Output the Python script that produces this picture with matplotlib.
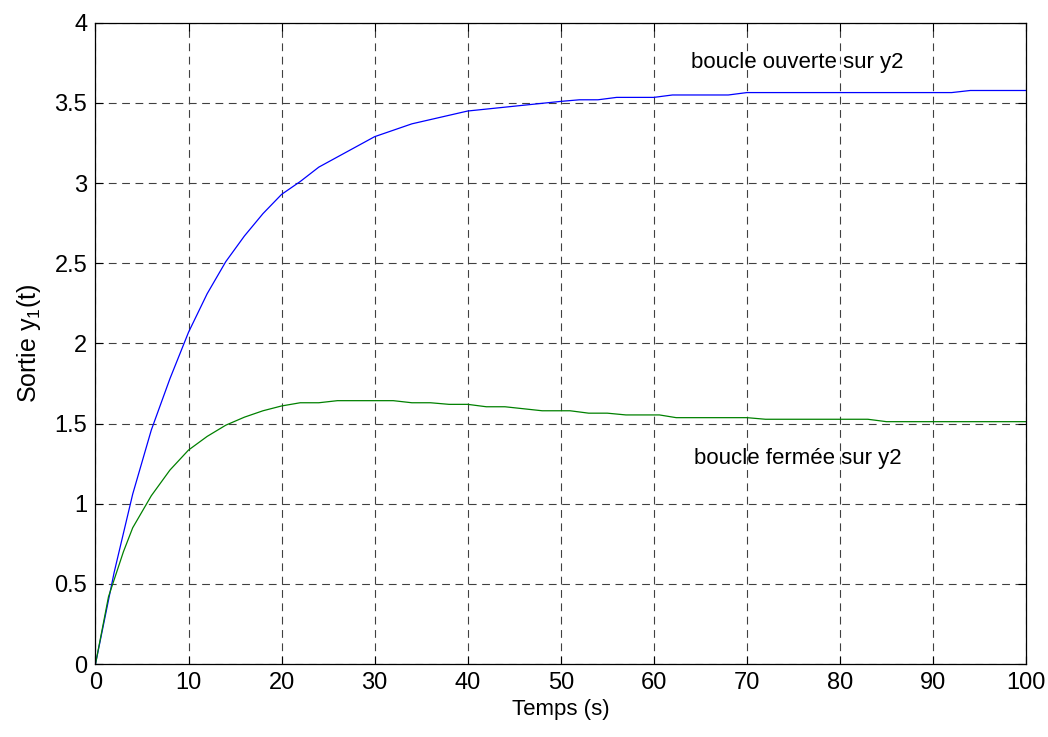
import matplotlib
matplotlib.use("Agg")
import matplotlib.pyplot as plt
from matplotlib.ticker import FuncFormatter

plt.rcParams['font.family'] = ['Liberation Sans', 'DejaVu Sans']
plt.rcParams['mathtext.fontset'] = 'custom'
plt.rcParams['mathtext.rm'] = 'Liberation Sans'

# boucle ouverte sur y2 (blue)
t_open = [0, 2, 4, 6, 8, 10, 12, 14, 16, 18, 20, 22, 24, 30, 34, 40, 50, 52, 54,
          56, 60, 62, 68, 70, 92, 94, 100]
y_open = [0, 0.57, 1.06, 1.46, 1.78, 2.07, 2.31, 2.51, 2.67, 2.81, 2.93, 3.01, 3.10,
          3.29, 3.37, 3.45, 3.51, 3.52, 3.52, 3.535, 3.535, 3.55, 3.55, 3.565, 3.565,
          3.578, 3.578]

# boucle fermee sur y2 (green)
t_closed = [0, 1.4, 3, 4, 6, 8, 10, 12, 14, 16, 18, 20, 22, 24, 26, 32, 34, 36, 38,
            40, 42, 44, 48, 51, 53, 55, 57, 60.6, 62.4, 70, 72, 83, 85, 100]
y_closed = [0, 0.42, 0.70, 0.85, 1.05, 1.21, 1.335, 1.42, 1.49, 1.54, 1.58, 1.61,
            1.63, 1.63, 1.643, 1.643, 1.63, 1.63, 1.62, 1.62, 1.605, 1.605, 1.58,
            1.58, 1.565, 1.565, 1.554, 1.554, 1.537, 1.537, 1.527, 1.527, 1.512, 1.512]

x_ticks = list(range(0, 101, 10))
y_ticks = [0, 0.5, 1, 1.5, 2, 2.5, 3, 3.5, 4]

fig = plt.figure(figsize=(10.48, 7.37), dpi=100)
ax = fig.add_axes([0.0911, 0.099, 0.888, 0.870])

ax.plot(t_open, y_open, color=(0, 0, 1), linewidth=0.9)
ax.plot(t_closed, y_closed, color=(0, 0.5, 0), linewidth=0.9)

ax.set_xlim(0, 100)
ax.set_ylim(0, 4)
ax.set_xticks(x_ticks)
ax.set_yticks(y_ticks)
ax.yaxis.set_major_formatter(FuncFormatter(lambda v, p: f"{v:g}"))
ax.tick_params(direction='in', length=6, width=0.8, top=True, right=True,
               labelsize=17, pad=6, colors='black')
ax.grid(True, color='0.25', linestyle=(0, (7, 5)), linewidth=0.8)
for s in ax.spines.values():
    s.set_linewidth(0.9)

ax.text(64, 3.75, "boucle ouverte sur y2", fontsize=16, va='center', ha='left')
ax.text(64.3, 1.28, "boucle fermée sur y2", fontsize=16, va='center', ha='left')

ax.set_xlabel("Temps (s)", fontsize=16, labelpad=3)
ax.set_ylabel(r"Sortie y$_\mathregular{1}$(t)", fontsize=18, labelpad=8)

fig.savefig("out.png", dpi=100)
